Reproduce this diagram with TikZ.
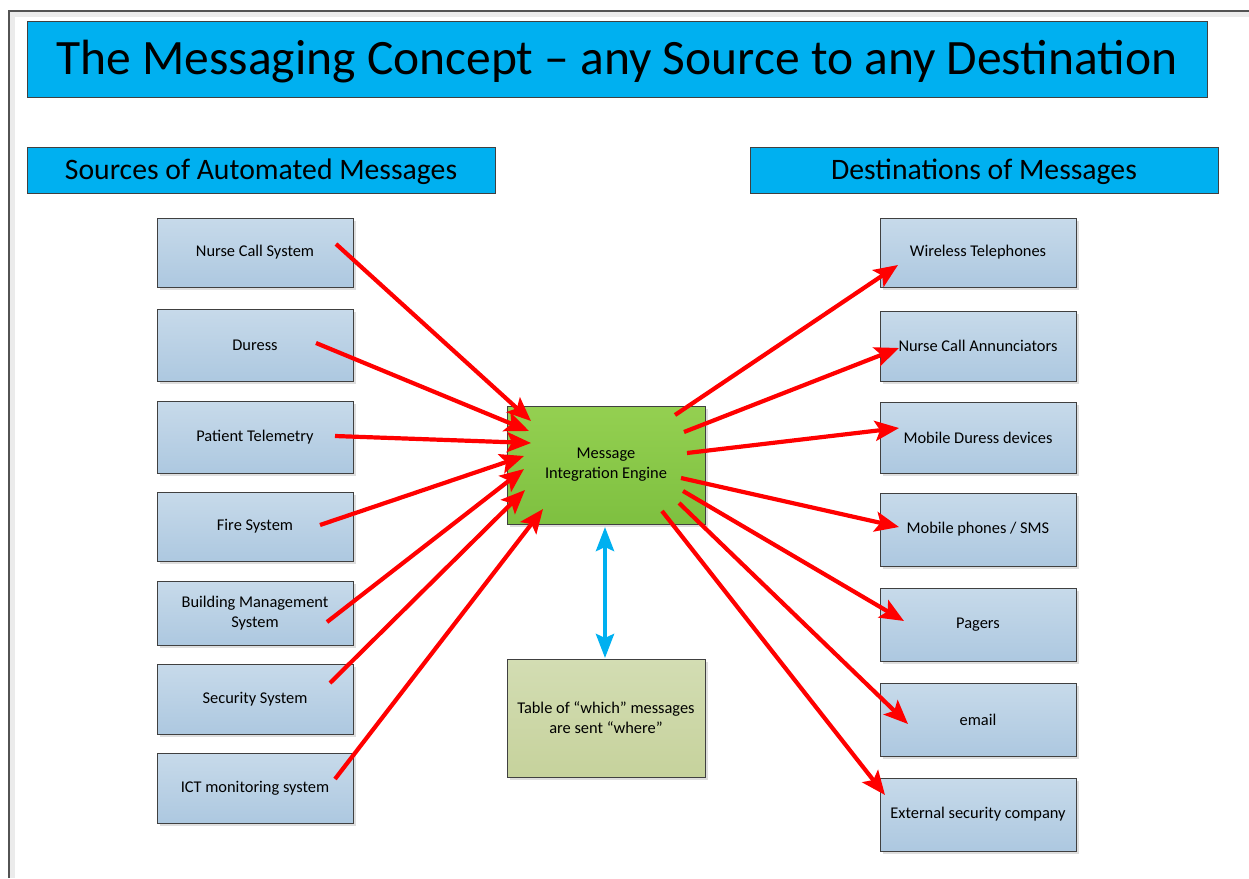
\documentclass[tikz,border=0pt]{standalone}
\usepackage{fontspec}
\setmainfont{Carlito}
\usetikzlibrary{arrows.meta,shadows,calc}
\definecolor{cyanh}{HTML}{00B0F0}
\definecolor{boxtop}{HTML}{C7DAEA}
\definecolor{boxbot}{HTML}{ADC8E0}
\definecolor{grntop}{HTML}{94D051}
\definecolor{grnbot}{HTML}{7EC040}
\definecolor{tbltop}{HTML}{D3DDB3}
\definecolor{tblbot}{HTML}{C6D29C}
\definecolor{edge}{HTML}{404040}
\definecolor{arrred}{HTML}{FF0000}
\tikzset{
  hdr/.style={draw=edge, line width=0.9pt, fill=cyanh, inner sep=0pt},
  sysbox/.style={draw=edge, line width=0.9pt, top color=boxtop, bottom color=boxbot,
     minimum width=196pt, inner sep=0pt, align=center,
     font=\fontsize{16.4}{20}\selectfont,
     drop shadow={shadow xshift=3pt, shadow yshift=-3pt, fill=black!13, opacity=1}},
  redarr/.style={draw=arrred, line width=4.2pt, -{Stealth[length=24pt,width=20pt,inset=5pt]}},
  bluearr/.style={draw=cyanh, line width=4.2pt, {Stealth[length=24pt,width=18pt,inset=4pt]}-{Stealth[length=24pt,width=18pt,inset=4pt]}}
}
\begin{document}
\begin{tikzpicture}[x=1pt,y=-1pt]
\useasboundingbox (0,0) rectangle (1249,878);
% page frame
\draw[black!8, line width=5pt] (12,878) -- (12,14) -- (1249,14);
\draw[edge!90, line width=1.3pt] (9,878) -- (9,11) -- (1249,11);
% headers
\node[hdr, minimum width=1180pt, minimum height=76pt] (title) at (617,59) {};
\node[font=\fontsize{49.5}{56}\selectfont, inner sep=0pt] (titletext) at (617,62) {The Messaging Concept – any Source to any Destination};
\node[hdr, minimum width=468pt, minimum height=46pt] (srch) at (261,170) {};
\node[font=\fontsize{29.7}{34}\selectfont, inner sep=0pt] (srctext) at (261,172) {Sources of Automated Messages};
\node[hdr, minimum width=468pt, minimum height=46pt] (dsth) at (984,170) {};
\node[font=\fontsize{29.7}{34}\selectfont, inner sep=0pt] (dsttext) at (984,172) {Destinations of Messages};
% sources
\node[sysbox, minimum height=69pt] (s1) at (255,252.5) {Nurse Call System};
\node[sysbox, minimum height=72pt] (s2) at (255,345) {Duress};
\node[sysbox, minimum height=72pt] (s3) at (255,437) {Patient Telemetry};
\node[sysbox, minimum height=69pt] (s4) at (255,526.5) {Fire System};
\node[sysbox, minimum height=64pt] (s5) at (255,613) {Building Management\\System};
\node[sysbox, minimum height=70pt] (s6) at (255,699) {Security System};
\node[sysbox, minimum height=70pt] (s7) at (255,788) {ICT monitoring system};
% destinations
\node[sysbox, minimum height=69pt] (d1) at (978,252.5) {Wireless Telephones};
\node[sysbox, minimum height=70pt] (d2) at (978,346) {Nurse Call Annunciators};
\node[sysbox, minimum height=71pt] (d3) at (978,437.5) {Mobile Duress devices};
\node[sysbox, minimum height=73pt] (d4) at (978,529.5) {Mobile phones / SMS};
\node[sysbox, minimum height=73pt] (d5) at (978,624.5) {Pagers};
\node[sysbox, minimum height=73pt] (d6) at (978,719.5) {email};
\node[sysbox, minimum height=73pt] (d7) at (978,814.5) {External security company};
% engine and table
\node[sysbox, minimum width=198pt, minimum height=118pt, top color=grntop, bottom color=grnbot] (eng) at (606,465) {Message\\Integration Engine};
\node[sysbox, minimum width=198pt, minimum height=118pt, top color=tbltop, bottom color=tblbot] (tbl) at (606,718) {Table of “which” messages\\are sent “where”};
% arrow end coordinates
\coordinate (a1) at (336,244); \coordinate (e1) at (531,421);
\coordinate (a2) at (316,343); \coordinate (e2) at (529,431);
\coordinate (a3) at (335,436); \coordinate (e3) at (531,443);
\coordinate (a4) at (320,525); \coordinate (e4) at (524,456);
\coordinate (a5) at (327,622); \coordinate (e5) at (524,469);
\coordinate (a6) at (330,683); \coordinate (e6) at (525,490);
\coordinate (a7) at (335,779); \coordinate (e7) at (543,509);
\coordinate (b1) at (675,415); \coordinate (f1) at (898,265);
\coordinate (b2) at (684,432); \coordinate (f2) at (899,348);
\coordinate (b3) at (687,453); \coordinate (f3) at (899,428);
\coordinate (b4) at (681,478); \coordinate (f4) at (899,527);
\coordinate (b5) at (683,491); \coordinate (f5) at (904,621);
\coordinate (b6) at (679,503); \coordinate (f6) at (908,724);
\coordinate (b7) at (662,511); \coordinate (f7) at (885,795);
\foreach \i in {1,...,7} {
  \draw[redarr] (a\i) -- (e\i);
  \draw[redarr] (b\i) -- (f\i);
}
\coordinate (ub) at (605,527);
\coordinate (lb) at (605,658);
\draw[bluearr] (ub) -- (lb);
\end{tikzpicture}
\end{document}
